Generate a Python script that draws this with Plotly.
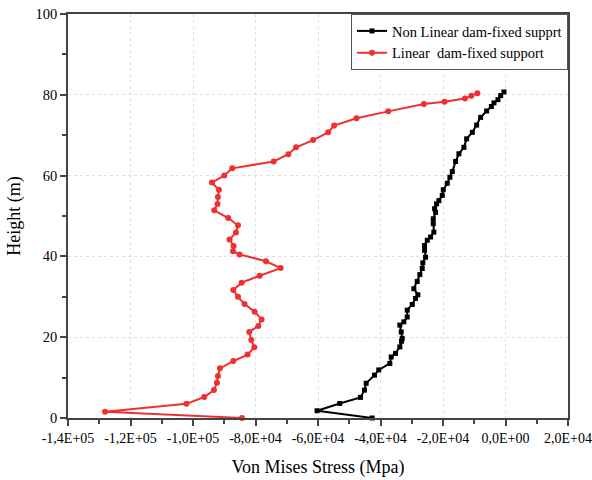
import plotly.graph_objects as go

# Non linear dam-fixed support (black)
nl_stress = [-42664, -60292, -53048, -46414, -45132, -44587, -41927, -40549, -37023, -36574,
             -35197, -33818, -33274, -33049, -33370, -33818, -32536, -31447, -31447, -29844,
             -28786, -28049, -29331, -28242, -27408, -26639, -26447, -25581, -25902, -25902,
             -25037, -23979, -22921, -23114, -23114, -22376, -22697, -22056, -21319, -20229,
             -19909, -18627, -17793, -17024, -15966, -14909, -13306, -12441, -10614, -9236,
             -7954, -6031, -4525, -3691, -2409, -1544, -486]
nl_height = [0.0, 1.8, 3.6, 5.1, 6.9, 8.6, 10.6, 11.9, 13.5, 15.1,
             16.0, 17.6, 19.0, 19.7, 21.3, 23.0, 23.8, 25.0, 26.7, 28.1,
             29.6, 30.5, 32.0, 33.8, 35.5, 37.0, 38.4, 39.8, 41.5, 42.7,
             44.0, 44.8, 46.0, 48.1, 49.3, 50.9, 51.8, 53.0, 53.8, 55.1,
             56.5, 58.1, 59.6, 61.0, 63.5, 65.4, 67.0, 69.1, 70.7, 72.5,
             74.4, 76.0, 77.1, 78.0, 78.8, 79.8, 80.7]

# Linear dam-fixed support (red)
lin_stress = [-84329, -128141, -102085, -96412, -93303, -92342, -92021, -91380, -87117, -82534,
              -80387, -81348, -81989, -79105, -78047, -80291, -83496, -85611, -87117, -84457,
              -78688, -71958, -76637, -85098, -87214, -87021, -88303, -86252, -85611, -88720,
              -93207, -92149, -92021, -91701, -93944, -90002, -87438, -74201, -69490, -67022,
              -61574, -56766, -54843, -47696, -37536, -26126, -19492, -12986, -10935, -9006]
lin_height = [0.0, 1.55, 3.5, 5.2, 6.9, 8.7, 10.4, 12.3, 14.1, 15.7,
              17.5, 19.3, 21.3, 22.8, 24.4, 26.3, 28.2, 30.0, 31.7, 33.5,
              35.2, 37.1, 38.8, 40.5, 41.3, 42.6, 44.2, 45.9, 47.7, 49.5,
              51.4, 53.0, 54.7, 56.5, 58.3, 60.0, 61.8, 63.5, 65.3, 67.0,
              68.8, 70.7, 72.4, 74.2, 75.9, 77.7, 78.3, 79.1, 79.75, 80.4]

x_tickvals = [-140000, -120000, -100000, -80000, -60000, -40000, -20000, 0, 20000]
x_ticktext = ["-1,4E+05", "-1,2E+05", "-1,0E+05", "-8,0E+04", "-6,0E+04",
              "-4,0E+04", "-2,0E+04", "0,0E+00", "2,0E+04"]
x_minorvals = [-130000, -110000, -90000, -70000, -50000, -30000, -10000, 10000]
y_tickvals = [0, 20, 40, 60, 80, 100]
y_minorvals = [10, 30, 50, 70, 90]

FONT = "Liberation Serif"

fig = go.Figure()
fig.add_trace(go.Scatter(
    x=nl_stress, y=nl_height, mode="lines+markers",
    name="Non Linear dam-fixed supprt",
    line=dict(color="black", width=2),
    marker=dict(symbol="square", size=5, color="black"),
    cliponaxis=False,
))
fig.add_trace(go.Scatter(
    x=lin_stress, y=lin_height, mode="lines+markers",
    name="Linear  dam-fixed support",
    line=dict(color="#f03030", width=2),
    marker=dict(symbol="circle", size=6, color="#f03030"),
    cliponaxis=False,
))

axis_common = dict(
    showline=True, linecolor="#444444", linewidth=1.5, mirror=True,
    ticks="outside", ticklen=6, tickwidth=1.5, tickcolor="#444444",
    showgrid=True, gridcolor="#e0e0e0", griddash="dot", gridwidth=1,
    zeroline=False, automargin=False,
)

fig.update_xaxes(
    range=[-140000, 20000], tickmode="array",
    tickvals=x_tickvals, ticktext=x_ticktext,
    tickfont=dict(family=FONT, size=14, color="black"),
    minor=dict(tickmode="array", tickvals=x_minorvals, ticks="outside",
               ticklen=4, tickwidth=1.5, tickcolor="#444444", showgrid=False),
    title=dict(text="Von Mises Stress (Mpa)", font=dict(family=FONT, size=18, color="black"),
               standoff=16),
    **axis_common,
)
fig.update_yaxes(
    range=[0, 100], tickmode="array", tickvals=y_tickvals,
    tickfont=dict(family=FONT, size=14.5, color="black"),
    minor=dict(tickmode="array", tickvals=y_minorvals, ticks="outside",
               ticklen=4, tickwidth=1.5, tickcolor="#444444", showgrid=False),
    title=dict(text="Height (m)", font=dict(family=FONT, size=18, color="black"),
               standoff=10),
    **axis_common,
)

fig.update_layout(
    width=592, height=480,
    margin=dict(l=68, r=24, t=14, b=62),
    plot_bgcolor="white", paper_bgcolor="white",
    font=dict(family=FONT, color="black"),
    legend=dict(
        x=1, y=1, xanchor="right", yanchor="top",
        bgcolor="white", bordercolor="#555555", borderwidth=1,
        font=dict(family=FONT, size=14.5, color="black"),
        tracegroupgap=0, itemwidth=30,
    ),
    showlegend=True,
)

fig.write_html("out.html")
